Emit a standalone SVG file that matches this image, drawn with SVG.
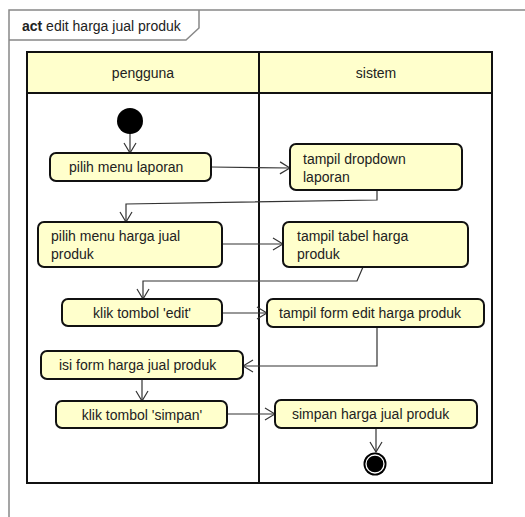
<svg xmlns="http://www.w3.org/2000/svg" width="525" height="517" viewBox="0 0 525 517">
<defs>
<style>
text{font-family:"Liberation Sans",Arial,sans-serif;font-size:14px;fill:#222}
.act rect{fill:#FFFFCC;stroke:#111;stroke-width:2}
.lane{fill:none;stroke:#111;stroke-width:2}
.hdr{fill:#FFFFCC;stroke:#111;stroke-width:2}
.c{fill:none;stroke:#333;stroke-width:1.2}
</style>
<marker id="a" markerWidth="12" markerHeight="14" refX="11" refY="7" orient="auto" markerUnits="userSpaceOnUse">
<path d="M1,1 L11,7 L1,13" fill="none" stroke="#333" stroke-width="1.2"/>
</marker>
</defs>
<rect width="525" height="517" fill="#fff"/>
<g id="frame">
<path d="M9,517 L9,10 L525,10" fill="none" stroke="#888" stroke-width="1.5"/>
<path d="M9,40 L186,40 L199,28 L199,10" fill="none" stroke="#888" stroke-width="1.5"/>
<text x="22" y="31"><tspan font-weight="bold">act</tspan> edit harga jual produk</text>
</g>
<g id="lanes">
<rect class="hdr" x="27" y="52" width="465" height="41"/>
<rect class="lane" x="27" y="52" width="465" height="431"/>
<line x1="259" y1="52" x2="259" y2="483" stroke="#111" stroke-width="2"/>
<text x="143" y="78" text-anchor="middle">pengguna</text>
<text x="376" y="78" text-anchor="middle">sistem</text>
</g>
<g id="connectors">
<path class="c" d="M130,133 L130,153" marker-end="url(#a)"/>
<path class="c" d="M211,167 L290,168" marker-end="url(#a)"/>
<path class="c" d="M377,190 L377,200 L126,204 L126,222" marker-end="url(#a)"/>
<path class="c" d="M222,244 L283,244" marker-end="url(#a)"/>
<path class="c" d="M363,267 L357,281 L143,281 L143,299" marker-end="url(#a)"/>
<path class="c" d="M222,313 L267,313" marker-end="url(#a)"/>
<path class="c" d="M377,327 L377,366 L243,366" marker-end="url(#a)"/>
<path class="c" d="M142,379 L142,401" marker-end="url(#a)"/>
<path class="c" d="M227,414 L275,414" marker-end="url(#a)"/>
<path class="c" d="M376,428 L376,452" marker-end="url(#a)"/>
</g>
<g id="start"><circle cx="130" cy="121" r="13" fill="#000"/></g>
<g id="n1" class="act"><rect x="50" y="153" width="161" height="28" rx="6"/><text x="69" y="172">pilih menu laporan</text></g>
<g id="n2" class="act"><rect x="290" y="144" width="172" height="46" rx="6"/><text x="303" y="164">tampil dropdown</text><text x="303" y="182">laporan</text></g>
<g id="n3" class="act"><rect x="38" y="222" width="184" height="45" rx="6"/><text x="51" y="241">pilih menu harga jual</text><text x="51" y="259">produk</text></g>
<g id="n4" class="act"><rect x="283" y="222" width="185" height="45" rx="6"/><text x="297" y="241">tampil tabel harga</text><text x="297" y="259">produk</text></g>
<g id="n5" class="act"><rect x="62" y="299" width="160" height="27" rx="6"/><text x="142" y="318" text-anchor="middle">klik tombol 'edit'</text></g>
<g id="n6" class="act"><rect x="267" y="299" width="217" height="28" rx="6"/><text x="279" y="318">tampil form edit harga produk</text></g>
<g id="n7" class="act"><rect x="41" y="351" width="202" height="28" rx="6"/><text x="59" y="370">isi form harga jual produk</text></g>
<g id="n8" class="act"><rect x="56" y="401" width="171" height="27" rx="6"/><text x="142" y="420" text-anchor="middle">klik tombol 'simpan'</text></g>
<g id="n9" class="act"><rect x="275" y="400" width="202" height="28" rx="6"/><text x="292" y="419">simpan harga jual produk</text></g>
<g id="end"><circle cx="375" cy="464" r="11.5" fill="#000"/><circle cx="375" cy="464" r="9" fill="none" stroke="#fff" stroke-width="1.3"/></g>
</svg>
